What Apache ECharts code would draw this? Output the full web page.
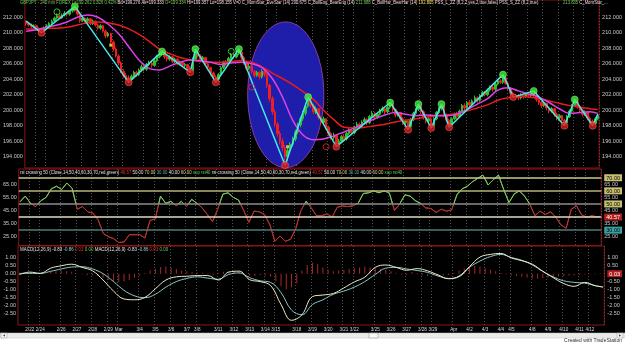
<!DOCTYPE html>
<html>
<head>
<meta charset="utf-8">
<title>GBPJPY 240 min</title>
<script src="https://cdn.jsdelivr.net/npm/echarts@6.0.0/dist/echarts.min.js"></script>
<style>
  html, body { margin: 0; padding: 0; background: #000; }
  #chart { width: 625px; height: 344px; }
</style>
</head>
<body>
<div id="chart"></div>
<script>
// trading days on the time axis, and how many 240-min bars fall under each label
const dayLabels = ['', '2/22', '2/24', '2/26', '2/27', '2/28', '2/29', 'Mar', '3/4', '3/5', '3/6', '3/7', '3/8',
  '3/11', '3/12', '3/13', '3/14', '3/15', '3/18', '3/19', '3/20', '3/21', '3/22', '3/25', '3/26', '3/27', '3/28',
  '3/29', 'Apr', '4/2', '4/3', '4/4', '4/5', '4/8', '4/9', '4/10', '4/11', '4/12'];
const dayBars = [4, 4, 8, 6, 6, 6, 4, 8, 6, 6, 6, 4, 8, 6, 6, 6, 4, 8, 6, 6, 6, 4, 8, 6, 6, 6, 4, 8, 6, 6, 6, 4, 8, 6, 6, 6, 4, 6];

// candles, one per bar
const opens = [
  211.4, 211.2, 211.0, 210.8, 210.9, 210.5, 210.3, 210.2, 210.6, 210.9,
  211.2, 211.5, 211.9, 212.2, 211.9, 212.3, 212.5, 212.4, 212.8, 213.1,
  212.9, 212.4, 211.6, 211.9, 211.5, 211.8, 211.2, 211.5, 211.0, 210.6,
  210.9, 210.2, 209.6, 209.9, 208.8, 207.9, 207.0, 206.1, 205.0, 204.5,
  204.2, 204.0, 204.4, 204.9, 204.6, 205.2, 205.6, 205.3, 205.9, 206.1,
  205.8, 206.4, 206.9, 207.2, 207.3, 206.9, 206.6, 206.9, 206.3, 206.6,
  206.0, 206.2, 205.8, 205.9, 205.4, 205.1, 206.6, 207.5, 207.0, 206.6,
  206.8, 206.0, 205.5, 204.8, 204.3, 204.0, 204.6, 205.5, 206.2, 206.0,
  206.7, 207.2, 206.9, 207.3, 207.5, 206.8, 206.2, 205.4, 205.7, 205.0,
  204.5, 204.9, 204.3, 205.0, 204.6, 203.2, 201.5, 199.8, 198.2, 197.0,
  196.0, 195.2, 194.0, 194.8, 195.6, 196.3, 197.2, 198.1, 198.9, 199.6,
  200.5, 201.2, 200.6, 199.8, 200.2, 199.1, 198.4, 198.9, 197.8, 197.0,
  196.5, 196.8, 195.8, 196.0, 196.6, 196.3, 197.0, 197.4, 197.1, 197.8,
  198.2, 197.9, 198.5, 198.8, 198.4, 199.2, 199.6, 199.1, 199.5, 199.9,
  200.2, 199.8, 200.4, 200.7, 200.1, 199.4, 199.7, 198.9, 198.4, 198.6,
  197.9, 198.8, 199.6, 200.1, 200.5, 199.8, 199.1, 198.6, 198.9, 198.0,
  198.9, 199.7, 200.2, 200.5, 199.4, 198.7, 198.1, 198.9, 199.5, 199.2,
  199.9, 200.6, 200.3, 201.0, 200.7, 201.2, 201.6, 201.3, 201.9, 202.3,
  202.0, 202.6, 203.0, 202.7, 203.4, 203.8, 203.6, 204.2, 203.5, 202.8,
  202.2, 201.9, 201.9, 201.6, 202.0, 201.8, 202.1, 201.9, 202.2, 201.9,
  201.4, 201.0, 200.6, 200.9, 200.3, 199.9, 200.2, 199.5, 199.0, 199.3,
  198.7, 198.4, 199.2, 199.9, 200.6, 201.1, 200.5, 200.0, 199.5, 199.8,
  199.0, 198.6, 198.3, 198.9
];
const closes = [
  211.2, 211.0, 210.8, 210.9, 210.5, 210.3, 210.2, 210.6, 210.9, 211.2,
  211.5, 211.9, 212.2, 211.9, 212.3, 212.5, 212.4, 212.8, 213.1, 212.9,
  212.4, 211.6, 211.9, 211.5, 211.8, 211.2, 211.5, 211.0, 210.6, 210.9,
  210.2, 209.6, 209.9, 208.8, 207.9, 207.0, 206.1, 205.0, 204.5, 204.2,
  204.0, 204.4, 204.9, 204.6, 205.2, 205.6, 205.3, 205.9, 206.1, 205.8,
  206.4, 206.9, 207.2, 207.3, 206.9, 206.6, 206.9, 206.3, 206.6, 206.0,
  206.2, 205.8, 205.9, 205.4, 205.1, 206.6, 207.5, 207.0, 206.6, 206.8,
  206.0, 205.5, 204.8, 204.3, 204.0, 204.6, 205.5, 206.2, 206.0, 206.7,
  207.2, 206.9, 207.3, 207.5, 206.8, 206.2, 205.4, 205.7, 205.0, 204.5,
  204.9, 204.3, 205.0, 204.6, 203.2, 201.5, 199.8, 198.2, 197.0, 196.0,
  195.2, 194.0, 194.8, 195.6, 196.3, 197.2, 198.1, 198.9, 199.6, 200.5,
  201.2, 200.6, 199.8, 200.2, 199.1, 198.4, 198.9, 197.8, 197.0, 196.5,
  196.8, 195.8, 196.0, 196.6, 196.3, 197.0, 197.4, 197.1, 197.8, 198.2,
  197.9, 198.5, 198.8, 198.4, 199.2, 199.6, 199.1, 199.5, 199.9, 200.2,
  199.8, 200.4, 200.7, 200.1, 199.4, 199.7, 198.9, 198.4, 198.6, 197.9,
  198.8, 199.6, 200.1, 200.5, 199.8, 199.1, 198.6, 198.9, 198.0, 198.9,
  199.7, 200.2, 200.5, 199.4, 198.7, 198.1, 198.9, 199.5, 199.2, 199.9,
  200.6, 200.3, 201.0, 200.7, 201.2, 201.6, 201.3, 201.9, 202.3, 202.0,
  202.6, 203.0, 202.7, 203.4, 203.8, 203.6, 204.2, 203.5, 202.8, 202.2,
  201.9, 201.9, 201.6, 202.0, 201.8, 202.1, 201.9, 202.2, 201.9, 201.4,
  201.0, 200.6, 200.9, 200.3, 199.9, 200.2, 199.5, 199.0, 199.3, 198.7,
  198.4, 199.2, 199.9, 200.6, 201.1, 200.5, 200.0, 199.5, 199.8, 199.0,
  198.6, 198.3, 198.9, 199.3
];
const highs = [
  211.6, 211.4, 211.2, 211.1, 211.0, 210.7, 210.5, 210.8, 211.1, 211.4,
  211.7, 212.1, 212.5, 212.4, 212.5, 212.8, 212.7, 213.0, 213.2, 213.4,
  213.1, 212.5, 212.2, 212.0, 212.0, 211.9, 211.7, 211.6, 211.2, 211.1,
  211.0, 210.4, 210.1, 210.0, 209.0, 208.1, 207.2, 206.3, 205.3, 204.8,
  204.5, 204.6, 205.1, 205.1, 205.4, 205.9, 205.8, 206.1, 206.4, 206.3,
  206.6, 207.1, 207.4, 207.6, 207.4, 207.1, 207.1, 207.0, 206.8, 206.7,
  206.4, 206.3, 206.1, 206.0, 205.6, 206.8, 207.9, 207.7, 207.2, 207.0,
  206.9, 206.2, 205.6, 205.0, 204.5, 204.8, 205.7, 206.4, 206.5, 206.9,
  207.4, 207.4, 207.6, 207.9, 207.6, 207.0, 206.3, 206.0, 205.9, 205.2,
  205.1, 205.0, 205.3, 205.2, 204.8, 203.4, 201.8, 200.1, 198.5, 197.3,
  196.4, 195.5, 195.2, 195.9, 196.6, 197.5, 198.4, 199.2, 199.9, 200.8,
  201.7, 201.4, 200.8, 200.5, 200.3, 199.3, 199.2, 199.0, 198.0, 197.2,
  197.1, 196.9, 196.3, 196.8, 196.9, 197.2, 197.7, 197.6, 198.0, 198.5,
  198.4, 198.7, 199.1, 199.0, 199.4, 199.9, 199.8, 199.7, 200.2, 200.5,
  200.4, 200.6, 201.0, 200.8, 200.2, 199.9, 199.8, 199.1, 198.8, 198.7,
  199.0, 199.8, 200.3, 200.8, 200.6, 200.0, 199.3, 199.1, 199.0, 199.1,
  199.9, 200.4, 200.8, 200.6, 199.6, 198.9, 199.1, 199.7, 199.8, 200.1,
  200.8, 200.9, 201.2, 201.3, 201.4, 201.9, 201.8, 202.1, 202.5, 202.5,
  202.8, 203.2, 203.2, 203.6, 204.0, 204.0, 204.6, 204.4, 203.7, 203.0,
  202.4, 202.1, 202.1, 202.2, 202.2, 202.3, 202.3, 202.4, 202.5, 202.0,
  201.6, 201.2, 201.1, 201.0, 200.5, 200.4, 200.3, 199.7, 199.5, 199.4,
  198.9, 199.4, 200.1, 200.8, 201.4, 201.2, 200.7, 200.2, 200.0, 199.9,
  199.2, 198.8, 199.1, 199.5
];
const lows = [
  210.9, 210.8, 210.6, 210.6, 210.3, 210.1, 210.0, 210.1, 210.4, 210.7,
  211.0, 211.3, 211.7, 211.7, 211.8, 212.1, 212.1, 212.2, 212.6, 212.7,
  212.2, 211.3, 211.4, 211.3, 211.3, 211.0, 211.0, 210.8, 210.4, 210.4,
  210.0, 209.3, 209.4, 208.5, 207.6, 206.8, 205.8, 204.8, 204.2, 203.9,
  203.6, 203.8, 204.2, 204.3, 204.4, 205.0, 205.0, 205.1, 205.7, 205.5,
  205.6, 206.2, 206.7, 207.0, 206.6, 206.3, 206.4, 206.1, 206.1, 205.8,
  205.8, 205.6, 205.5, 205.2, 204.9, 205.0, 206.4, 206.8, 206.4, 206.3,
  205.8, 205.2, 204.5, 204.0, 203.6, 203.8, 204.4, 205.3, 205.7, 205.8,
  206.5, 206.6, 206.7, 207.1, 206.5, 205.9, 205.1, 205.2, 204.7, 204.2,
  204.3, 204.0, 204.1, 204.3, 202.9, 201.1, 199.4, 197.8, 196.6, 195.6,
  194.7, 192.9, 193.5, 194.5, 195.3, 196.0, 196.9, 197.8, 198.6, 199.3,
  200.3, 200.3, 199.5, 199.5, 198.8, 198.1, 198.2, 197.5, 196.7, 196.2,
  196.2, 195.3, 195.5, 195.8, 196.0, 196.1, 196.8, 196.8, 196.9, 197.6,
  197.6, 197.7, 198.3, 198.1, 198.2, 199.0, 198.8, 198.9, 199.3, 199.7,
  199.5, 199.6, 200.2, 199.8, 199.1, 199.2, 198.6, 198.1, 198.1, 197.5,
  197.7, 198.6, 199.4, 199.9, 199.5, 198.8, 198.3, 198.4, 197.7, 197.8,
  198.7, 199.5, 200.0, 199.1, 198.4, 197.8, 197.9, 198.7, 198.9, 199.0,
  199.7, 200.0, 200.1, 200.4, 200.5, 201.0, 201.0, 201.1, 201.7, 201.8,
  201.8, 202.4, 202.4, 202.5, 203.2, 203.4, 203.4, 203.3, 202.6, 202.0,
  201.7, 201.6, 201.3, 201.4, 201.5, 201.6, 201.6, 201.7, 201.7, 201.1,
  200.7, 200.3, 200.4, 200.0, 199.6, 199.7, 199.2, 198.7, 198.8, 198.4,
  198.0, 198.2, 199.0, 199.7, 200.4, 200.2, 199.7, 199.2, 199.3, 198.7,
  198.3, 198.0, 198.1, 198.7
];

// moving averages, read every 4th bar (last one at the final bar)
const redMA = [
  210.5, 210.5, 210.6, 210.6, 210.7, 211.0, 211.3, 211.4, 211.3, 211.0,
  210.5, 209.8, 208.9, 207.9, 207.3, 206.8, 206.5, 206.3, 206.2, 206.2,
  206.3, 206.4, 206.2, 205.6, 204.8, 204.1, 203.3, 202.4, 201.4, 200.0,
  198.8, 197.8, 197.7, 197.8, 198.0, 198.2, 198.5, 198.7, 198.9, 199.1,
  199.3, 199.4, 199.6, 199.9, 200.3, 200.7, 201.3, 201.6, 201.8, 201.7,
  201.5, 201.2, 200.9, 200.6, 200.4, 200.2, 200.1
];
const magentaMA = [
  210.2, 210.4, 210.7, 211.0, 211.4, 212.0, 212.3, 212.0, 211.1, 209.9,
  208.2, 206.5, 205.4, 205.2, 205.7, 206.2, 206.5, 206.4, 206.2, 205.9,
  206.1, 206.2, 206.0, 205.5, 204.1, 201.7, 198.7, 196.8, 196.2, 196.3,
  196.7, 197.2, 197.7, 198.3, 198.9, 199.4, 199.7, 199.5, 199.3, 199.4,
  199.3, 199.3, 199.5, 200.1, 200.8, 201.5, 202.6, 202.9, 202.5, 202.1,
  201.7, 201.0, 200.2, 199.6, 199.7, 199.8, 199.6
];

// zigzag swing points (bar, price)
const zzBars = [0, 6, 19, 40, 53, 64, 66, 74, 83, 101, 110, 121, 142, 149, 153, 158, 162, 165, 186, 190, 198, 210, 214, 221, 223];
const zzPrices = [211.5, 210.0, 213.4, 203.6, 207.6, 204.9, 207.9, 203.6, 207.9, 192.9, 201.7, 195.3, 201.0, 197.5,
  200.8, 197.7, 200.8, 197.8, 204.6, 201.7, 202.5, 198.0, 201.4, 198.0, 199.5];

// candle pattern markers
const bullMarkBars = [12, 80];
const bullMarkPrices = [212.7, 207.6];
const bearMarkBars = [88, 117];
const bearMarkPrices = [203.0, 195.3];
const starBars = [33, 102];
const starPrices = [208.4, 195.3];

// RSI(14), read every 2nd bar
const rsiValues = [
  51.7, 56.0, 50.5, 48.0, 52.5, 55.0, 61.5, 63.5, 61.0, 66.0,
  62.0, 46.0, 48.0, 44.0, 43.0, 38.0, 27.5, 25.0, 23.5, 20.5,
  21.0, 26.5, 26.5, 26.5, 24.0, 37.5, 38.5, 56.0, 50.5, 52.0,
  48.5, 52.0, 48.0, 53.5, 50.5, 47.0, 42.0, 36.5, 46.0, 57.5,
  58.5, 55.0, 53.0, 45.0, 36.0, 44.5, 44.0, 42.0, 34.5, 21.5,
  25.5, 21.5, 23.0, 31.0, 45.0, 52.0, 47.0, 41.0, 41.0, 42.5,
  40.0, 47.5, 48.5, 48.0, 48.5, 50.5, 58.0, 58.5, 60.0, 58.5,
  60.0, 58.5, 45.0, 50.0, 57.0, 56.0, 52.5, 50.5, 47.0, 46.5,
  43.5, 46.0, 44.5, 45.5, 57.0, 61.5, 63.5, 67.0, 69.5, 72.0,
  64.5, 68.5, 72.0, 61.0, 51.0, 57.5, 60.0, 56.0, 50.0, 41.0,
  44.5, 42.0, 44.0, 40.0, 34.0, 31.5, 46.0, 48.5, 41.5, 40.0,
  41.0, 40.0, 40.57
];
const rsiLevels = [70, 60, 50, 40, 30];

// MACD(12,26,9): lines read every 4th bar, histogram every 2nd bar
const macdLine = [
  -0.06, 0.10, 0.02, 0.35, 0.50, 0.60, 0.40, 0.18, -0.40, -1.10,
  -1.60, -1.65, -1.50, -0.95, -0.40, -0.20, -0.16, -0.12, -0.12, -0.40,
  0.10, 0.16, -0.38, -0.50, -0.75, -1.95, -2.95, -2.60, -1.45, -1.35,
  -1.25, -0.90, -0.52, -0.22, 0.40, 0.55, 0.40, 0.22, 0.32, 0.18,
  -0.08, -0.32, -0.15, 0.45, 1.05, 1.22, 1.28, 1.00, 0.82, 0.60,
  0.15, -0.25, -0.62, -0.80, -0.55, -0.76, -0.83
];
const signalLine = [
  0.02, 0.02, 0.02, 0.15, 0.30, 0.42, 0.44, 0.30, 0.00, -0.50,
  -1.05, -1.40, -1.52, -1.30, -0.85, -0.50, -0.30, -0.20, -0.28, -0.35,
  -0.05, 0.05, -0.25, -0.45, -0.55, -1.20, -2.30, -2.60, -1.95, -1.65,
  -1.30, -1.10, -0.85, -0.50, -0.05, 0.35, 0.40, 0.30, 0.20, 0.08,
  -0.15, -0.30, -0.20, 0.40, 0.80, 1.08, 1.22, 1.02, 0.85, 0.55,
  0.15, -0.20, -0.45, -0.55, -0.60, -0.75, -0.86
];
const macdHist = [
  0.04, 0.06, 0.05, 0.03, 0.02, 0.01, 0.10, 0.15, 0.18, 0.15,
  0.12, 0.02, -0.04, -0.08, -0.10, -0.15, -0.25, -0.40, -0.50, -0.55,
  -0.50, -0.40, -0.25, -0.12, 0.05, 0.20, 0.30, 0.42, 0.45, 0.40,
  0.30, 0.20, 0.15, 0.10, 0.08, 0.05, -0.05, -0.10, 0.05, 0.12,
  0.15, 0.14, 0.10, 0.00, -0.12, -0.15, -0.08, -0.10, -0.20, -0.50,
  -0.80, -1.00, -0.85, -0.60, 0.20, 0.55, 0.70, 0.60, 0.40, 0.25,
  0.15, 0.20, 0.25, 0.30, 0.35, 0.40, 0.45, 0.40, 0.35, 0.30,
  0.25, 0.15, 0.05, -0.05, -0.08, 0.10, 0.05, -0.10, -0.15, -0.10,
  -0.05, -0.10, -0.08, 0.05, 0.20, 0.35, 0.45, 0.50, 0.45, 0.35,
  0.25, 0.15, 0.05, -0.05, -0.10, -0.15, -0.20, -0.25, -0.30, -0.30,
  -0.28, -0.25, -0.20, -0.18, -0.15, -0.12, -0.10, -0.08, -0.05, -0.04,
  -0.03, 0.03
];

// axis tick labels
const priceTicks = [194, 196, 198, 200, 202, 204, 206, 208, 210, 212];
const rsiLeftTicks = [25, 35, 45, 55, 65];
const rsiRightTicks = [25, 30, 35, 40, 45, 50, 55, 60, 65, 70];
const macdTicks = [-2.5, -2, -1.5, -1, -0.5, 0, 0.5, 1];

// ---------------------------------------------------------------------------
const FONT = '"Liberation Sans Narrow", "Liberation Sans", Arial, sans-serif';
const BORDER = '#8c1414';
const LABEL = '#c8c8c8';
const UP = '#2fbf2f';
const DOWN = '#f01e1e';
const RSI_UP = '#7cc45c';
const RSI_DN = '#b83232';
const LAST = closes.length - 1;

// panel layout: price / rsi / macd
const P = { top: 0, h: 168, min: 192.55, max: 214.23 };
const R = { top: 169, h: 76.5, min: 18.28, max: 76.68 };
const M = { top: 246, h: 79, min: -3.247, max: 1.753 };

const categories = [];
dayLabels.forEach((d, k) => {
  for (let j = 0; j < dayBars[k]; j++) categories.push(d + '|' + j + '|' + k);
});
const isDayStart = (i, v) => {
  const p = String(v).split('|');
  return p[0] !== '' && p[1] === '0';
};

const every = (arr, step) => arr.map((v, k) => [Math.min(k * step, LAST), v]);

const candles = opens.map((o, i) => [o, closes[i], lows[i], highs[i]]);
const zzData = zzBars.map((b, k) => [b, zzPrices[k]]);
const swingHighs = zzData.filter((d, k) => k > 0 && k < zzData.length - 1 && zzPrices[k] > zzPrices[k - 1]);
const swingLows = zzData.filter((d, k) => k > 0 && k < zzData.length - 1 && zzPrices[k] < zzPrices[k - 1]);

function yAxisOf(grid, pos, panel, ticks, formatter, rich) {
  return {
    type: 'value', gridIndex: grid, position: pos, min: panel.min, max: panel.max,
    axisLine: { show: false }, axisTick: { show: false }, splitLine: { show: false },
    axisLabel: {
      customValues: ticks, formatter: formatter, rich: rich,
      color: LABEL, fontSize: 5.5, fontFamily: FONT, margin: pos === 'left' ? 2 : 3
    }
  };
}
const gridOf = panel => ({
  left: 18, right: 19, top: panel.top, height: panel.h,
  show: true, borderColor: BORDER, borderWidth: 1, backgroundColor: 'transparent'
});

const box = (bg, fg) => ({ backgroundColor: bg, color: fg, fontSize: 5.5, fontFamily: FONT, padding: [1, 2, 0, 2] });
const rsiRich = { k: box('#c8c070', '#000'), r: box('#b01e1e', '#fff'), t: box('#3ca0a0', '#000') };
const rsiRight = v => {
  const s = { 70: 'k', 60: 'k', 50: 'k', 40: 'r', 30: 't' }[v];
  const t = v === 40 ? rsiValues[rsiValues.length - 1].toFixed(2) : v.toFixed(2);
  return s ? '{' + s + '|' + t + '}' : t;
};
const levelColors = { 70: '#c8c88c', 60: '#b4b478', 50: '#8c8c8c', 40: '#dcdcc0', 30: '#4c7c7c' };

// rsi is green above 50 and red below: a hard-stop gradient in pixel space
const f50 = (R.max - 50) / (R.max - R.min);
const rsiColor = {
  type: 'linear', x: 0, y: R.top, x2: 0, y2: R.top + R.h, global: true,
  colorStops: [
    { offset: 0, color: RSI_UP }, { offset: f50, color: RSI_UP },
    { offset: f50, color: RSI_DN }, { offset: 1, color: RSI_DN }
  ]
};

const chart = echarts.init(document.getElementById('chart'));

chart.setOption({
  backgroundColor: '#000',
  animation: false,
  grid: [gridOf(P), gridOf(R), gridOf(M)],
  xAxis: [0, 1, 2].map(g => ({
    type: 'category', gridIndex: g, data: categories, boundaryGap: true,
    axisLine: { show: false }, axisTick: { show: false },
    splitLine: { show: true, interval: isDayStart, lineStyle: { color: '#505050', type: [1, 2], width: 1 } },
    axisLabel: g === 2
      ? {
        show: true, interval: isDayStart, showMinLabel: true, showMaxLabel: true, hideOverlap: false,
        formatter: v => v.split('|')[0], color: '#d8d8d8', fontSize: 4.6, fontFamily: FONT, margin: 2
      }
      : { show: false }
  })),
  yAxis: [
    yAxisOf(0, 'left', P, priceTicks, v => v.toFixed(3)),
    yAxisOf(0, 'right', P, priceTicks, v => v.toFixed(3)),
    yAxisOf(1, 'left', R, rsiLeftTicks, v => v.toFixed(2)),
    yAxisOf(1, 'right', R, rsiRightTicks, rsiRight, rsiRich),
    yAxisOf(2, 'left', M, macdTicks, v => v.toFixed(2)),
    yAxisOf(2, 'right', M, macdTicks, v => v === 0 ? '{r|0.03}' : v.toFixed(2), { r: box('#b01e1e', '#fff') })
  ],
  series: [
    {
      type: 'candlestick', xAxisIndex: 0, yAxisIndex: 0, data: candles, barWidth: 2,
      itemStyle: { color: UP, color0: DOWN, borderColor: UP, borderColor0: DOWN, borderWidth: 1 }
    },
    { type: 'line', xAxisIndex: 0, yAxisIndex: 0, data: every(redMA, 4), smooth: 0.4, showSymbol: false, lineStyle: { color: '#e81c1c', width: 1.5 } },
    { type: 'line', xAxisIndex: 0, yAxisIndex: 0, data: every(magentaMA, 4), smooth: 0.4, showSymbol: false, lineStyle: { color: '#e040e8', width: 1.5 } },
    { type: 'line', xAxisIndex: 0, yAxisIndex: 0, data: zzData, showSymbol: false, lineStyle: { color: '#48e8e8', width: 1.5 }, z: 4 },
    { type: 'scatter', xAxisIndex: 0, yAxisIndex: 0, data: swingHighs, symbolSize: 7, itemStyle: { color: '#3cf03c', borderColor: '#a8ffa8', borderWidth: 0.5 }, z: 5 },
    { type: 'scatter', xAxisIndex: 0, yAxisIndex: 0, data: swingLows, symbolSize: 7, itemStyle: { color: '#e01818', borderColor: '#ff8080', borderWidth: 0.5 }, z: 5 },
    { type: 'scatter', xAxisIndex: 0, yAxisIndex: 0, data: bullMarkBars.map((b, k) => [b, bullMarkPrices[k]]), symbol: 'circle', symbolSize: 6, itemStyle: { color: 'rgba(0,0,0,0)', borderColor: '#3cf03c', borderWidth: 1 }, z: 5 },
    { type: 'scatter', xAxisIndex: 0, yAxisIndex: 0, data: bearMarkBars.map((b, k) => [b, bearMarkPrices[k]]), symbol: 'circle', symbolSize: 6, itemStyle: { color: 'rgba(0,0,0,0)', borderColor: '#f02020', borderWidth: 1 }, z: 5 },
    { type: 'scatter', xAxisIndex: 0, yAxisIndex: 0, data: starBars.map((b, k) => [b, starPrices[k]]), symbol: 'rect', symbolSize: 3, itemStyle: { color: '#f0f040' }, z: 5 },
    {
      type: 'line', xAxisIndex: 1, yAxisIndex: 2, data: [[0, 50]], showSymbol: false, lineStyle: { opacity: 0 }, z: 1,
      markLine: {
        silent: true, symbol: ['none', 'none'], label: { show: false },
        data: rsiLevels.map(v => ({ yAxis: v, lineStyle: { color: levelColors[v], width: 1.5, type: 'solid' } }))
      }
    },
    { type: 'line', xAxisIndex: 1, yAxisIndex: 2, data: every(rsiValues, 2), showSymbol: false, lineStyle: { width: 1, color: rsiColor }, z: 3 },
    { type: 'bar', xAxisIndex: 2, yAxisIndex: 4, data: every(macdHist, 2), barWidth: 1, itemStyle: { color: '#a82828' } },
    { type: 'line', xAxisIndex: 2, yAxisIndex: 4, data: every(signalLine, 4), smooth: 0.4, showSymbol: false, lineStyle: { color: '#88c8c8', width: 1 } },
    { type: 'line', xAxisIndex: 2, yAxisIndex: 4, data: every(macdLine, 4), smooth: 0.4, showSymbol: false, lineStyle: { color: '#f0ecc8', width: 1 } }
  ]
});

// headers, the ellipse drawn on the chart, and the scrollbar strip
const rsiHead = '{w|rsi crossing 50 (Close,14,50,40,60,30,70,red,green)} {r|40.57} {w|50.00} {k|70.00} {t|30.00} {w|40.00} {k|60.00} {g|xup rsi40}';
const macdHead = '{w|MACD(12,26,9)} {w|-0.83} {c|-0.86} {r|0.03} {g|0.00}';
const priceHead = '{g|GBPJPY - 240 min FOREX L=199.262 0.826 0.42%} {w|Bd=199.276 Ak=199.333} {g|O=199.334} ' +
  '{w|Hi=199.357 Lo=198.155 V=0 C_MornStar_EveStar (14) 200.675 C_BullEng_BearEng (14)} {g|211.688} ' +
  '{w|C_BullHar_BearHar (14)} {y|192.805} {w|PSS_L_ZZ (8,2,2,yes,2,true,false) PSS_S_ZZ (8,2,true)}';
const headRich = {
  w: { fill: '#e0e0e0' }, g: { fill: '#60d060' }, r: { fill: '#e03030' },
  k: { fill: '#d8d890' }, t: { fill: '#50b0b0' }, c: { fill: '#88d0d0' }, y: { fill: '#e8e870' }
};
// the terminal's font is narrower than any installed one, so squeeze the header lines
const headText = (x, y, text, squeeze) => ({
  type: 'text', x: x, y: y, z: 10, scaleX: squeeze,
  style: { text: text, rich: headRich, fontSize: 5.3, fontFamily: FONT, fill: '#e0e0e0', verticalAlign: 'middle' }
});

// ellipse spans bars 87..116 and prices 211.4..192.6
const bandW = (625 - 18 - 19) / categories.length;
const xOf = b => 18 + (b + 0.5) * bandW;
const yOf = p => P.top + (P.max - p) / (P.max - P.min) * P.h;
const ex0 = xOf(87), ex1 = xOf(116), ey0 = yOf(211.4), ey1 = yOf(192.6);

chart.setOption({
  graphic: [
    {
      type: 'ellipse', z: 1, silent: true,
      shape: { cx: (ex0 + ex1) / 2, cy: (ey0 + ey1) / 2, rx: (ex1 - ex0) / 2, ry: (ey1 - ey0) / 2 },
      style: { fill: '#1e1eaa', stroke: '#8a3aa8', lineWidth: 1 }
    },
    headText(20, 3, priceHead, 0.79),
    headText(563, 3, '{g|213.835} {w|C_MornStar_...}', 0.79),
    headText(20, 173, rsiHead + ' ' + rsiHead, 0.82),
    headText(20, 250, macdHead + ' ' + macdHead, 0.84),
    { type: 'rect', z: 10, shape: { x: 0, y: 333, width: 625, height: 11 }, style: { fill: '#ffffff' } },
    { type: 'rect', z: 11, shape: { x: 0, y: 333, width: 625, height: 5 }, style: { fill: '#ebebeb', stroke: '#c4c4c4', lineWidth: 0.5 } },
    { type: 'rect', z: 12, shape: { x: 1, y: 333, width: 6, height: 5 }, style: { fill: '#f4f4f4', stroke: '#9a9a9a', lineWidth: 0.5 } },
    { type: 'polygon', z: 13, shape: { points: [[3, 335.5], [5, 334.3], [5, 336.7]] }, style: { fill: '#404040' } },
    { type: 'rect', z: 12, shape: { x: 617, y: 333, width: 6, height: 5 }, style: { fill: '#f4f4f4', stroke: '#9a9a9a', lineWidth: 0.5 } },
    { type: 'polygon', z: 13, shape: { points: [[621, 335.5], [619, 334.3], [619, 336.7]] }, style: { fill: '#404040' } },
    { type: 'rect', z: 12, shape: { x: 369, y: 333, width: 9, height: 5 }, style: { fill: '#f8f8f8', stroke: '#8a8a8a', lineWidth: 0.5 } },
    { type: 'text', z: 13, x: 622, y: 341, style: { text: 'Created with TradeStation', fontSize: 5, fontFamily: FONT, fill: '#303030', align: 'right', verticalAlign: 'middle' } }
  ]
});
</script>
</body>
</html>
